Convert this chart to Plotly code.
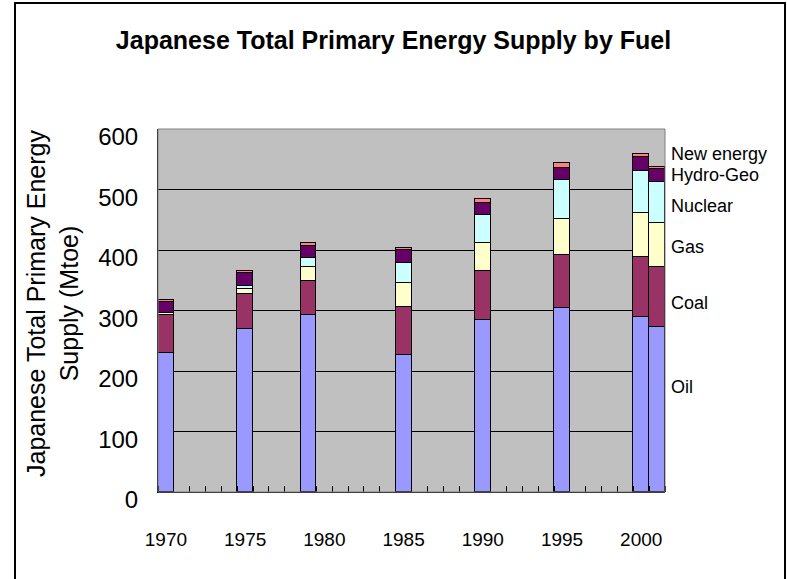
import plotly.graph_objects as go

years = [1970, 1975, 1979, 1985, 1990, 1995, 2000, 2001]
fuels = ["Oil", "Coal", "Gas", "Nuclear", "Hydro-Geo", "New energy"]
oil = [229, 269, 293, 226, 284, 304, 289, 272]
coal = [64, 59, 56, 79, 81, 88, 100, 100]
gas = [2.5, 7.5, 23, 40, 46, 60, 72, 72]
nuclear = [0.5, 5.5, 15, 34, 47, 63, 69, 69]
hydro_geo = [17.5, 21, 20, 21, 19, 20, 23, 21]
new_energy = [3.5, 2.5, 4, 4, 7.5, 8, 5.5, 4]
colors = ["#9999FF", "#993366", "#FFFFCC", "#CCFFFF", "#660066", "#FF8080"]
series = [oil, coal, gas, nuclear, hydro_geo, new_energy]

x_tick_vals = [1970, 1975, 1980, 1985, 1990, 1995, 2000]
y_tick_vals = [0, 100, 200, 300, 400, 500, 600]

# label y positions (data units) for the right-side series labels
label_y = [174, 312, 405, 472, 524, 559]

FONT = "Liberation Sans, Arial, sans-serif"

fig = go.Figure()
for name, vals, col in zip(fuels, series, colors):
    fig.add_trace(go.Bar(
        x=years, y=vals, name=name, width=1,
        marker=dict(color=col, line=dict(color="black", width=1)),
    ))

W, H = 787, 579
L, R, T, B = 158, 122, 129, 87
pw, ph = W - L - R, H - T - B

def px_x(p):
    return (p - L) / pw

def px_y(p):
    return (H - B - p) / ph

fig.update_layout(
    width=W, height=H,
    margin=dict(l=L, r=R, t=T, b=B, pad=0),
    barmode="stack", bargap=0,
    paper_bgcolor="white", plot_bgcolor="#C0C0C0",
    showlegend=False,
    font=dict(family=FONT, color="black"),
    title=dict(text="<b>Japanese Total Primary Energy Supply by Fuel</b>",
               x=0.5, xanchor="center", y=1 - 40 / H, yanchor="middle",
               font=dict(size=25, family=FONT)),
    xaxis=dict(range=[1969.5, 2001.5], tickmode="array", tickvals=x_tick_vals,
               ticktext=[str(v) for v in x_tick_vals], ticks="",
               tickfont=dict(size=19), ticklabelstandoff=30,
               showgrid=False, zeroline=False, showline=True, linecolor="black", linewidth=1,
               minor=dict(tick0=1969.5, dtick=1, ticks="inside", ticklen=6,
                          tickcolor="black", tickwidth=1, showgrid=False)),
    yaxis=dict(range=[0, 600], tickmode="array", tickvals=y_tick_vals,
               tickfont=dict(size=24), ticks="", ticklabelstandoff=14,
               ticklabelshift=8,
               showgrid=True, gridcolor="black", gridwidth=1, zeroline=False,
               showline=True, linecolor="black", linewidth=1),
)

# plot-area frame (gray) and outer chart border
fig.add_shape(type="rect", xref="paper", yref="paper", x0=0, y0=0, x1=1, y1=1,
              line=dict(color="#808080", width=1), layer="above")
fig.add_shape(type="rect", xref="paper", yref="paper",
              x0=px_x(15), x1=px_x(785), y0=px_y(3), y1=px_y(590),
              line=dict(color="black", width=2))

# y-axis title
fig.add_annotation(text="Japanese Total Primary Energy<br>Supply (Mtoe)",
                   xref="paper", yref="paper", x=px_x(52), y=px_y(304),
                   textangle=-90, showarrow=False, xanchor="center", yanchor="middle",
                   font=dict(size=25, family=FONT))

# right-side series labels
for name, ly in zip(fuels, label_y):
    fig.add_annotation(text=name, xref="paper", yref="y", x=px_x(669), y=ly,
                       xanchor="left", yanchor="middle", showarrow=False,
                       font=dict(size=18, family=FONT))

fig.write_html("out.html", config={"displayModeBar": False},
               post_script="document.body.style.margin='0';document.body.style.overflow='hidden';")
